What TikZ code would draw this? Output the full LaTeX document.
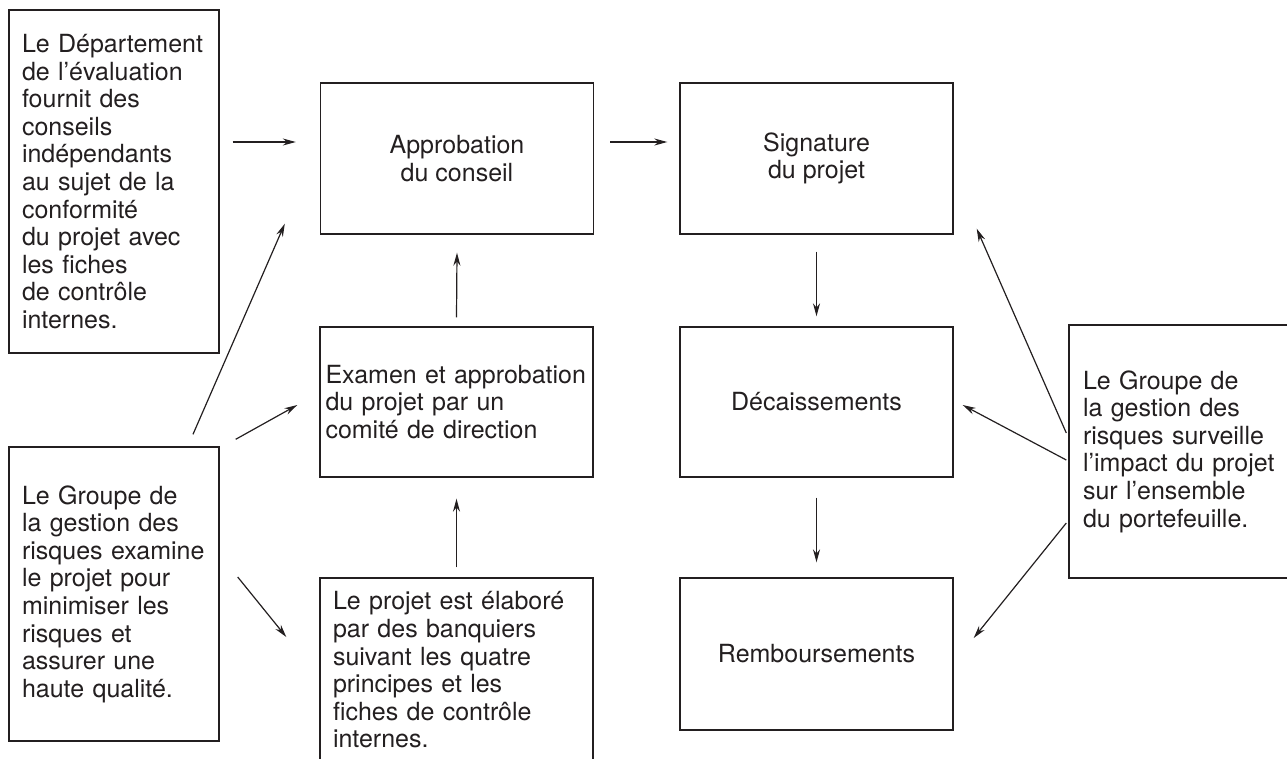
\documentclass[tikz,border=0pt]{standalone}
\usepackage{fontspec}
\setmainfont{TeX Gyre Heros}
\usetikzlibrary{calc,arrows.meta}
\definecolor{ink}{RGB}{35,31,32}
\tikzset{
  >={Stealth[length=13pt,width=7pt]},
  box/.style={draw=ink, line width=1.4pt, text=ink, minimum width=273pt, inner sep=0pt,
    font=\fontsize{25}{27.6}\selectfont, align=center},
  note/.style={box, align=left},
  link/.style={->, draw=ink, line width=1.2pt},
}

\begin{document}
\begin{tikzpicture}[x=1pt,y=-1pt]
\useasboundingbox (0,0) rectangle (1287,758);

\node[box, minimum height=151pt] (approb) at (457,158.5) {Approbation\\du conseil};
\node[box, minimum height=151pt] (sign) at (816.5,158.5) {Signature\\du projet};
\node[note, minimum height=150pt, text width=262pt] (exam) at (456.5,402) {Examen et approbation\\du projet par un\\comité de direction};
\node[box, minimum height=150pt] (decais) at (816.5,402) {Décaissements};
\node[note, minimum height=184pt, text width=247pt] (elab) at (456.5,670) {Le projet est élaboré\\par des banquiers\\suivant les quatre\\principes et les\\fiches de contrôle\\internes.};
\node[box, minimum height=152pt] (remb) at (816.5,654) {Remboursements};

\node[note, minimum width=210pt, minimum height=343pt, text width=184pt] (dept) at (114,181.5) {Le Département\\de l’évaluation\\fournit des\\conseils\\indépendants\\au sujet de la\\conformité\\du projet avec\\les fiches\\de contrôle\\internes.};
\node[note, minimum width=210pt, minimum height=294pt, text width=184pt] (risk) at (114,594) {Le Groupe de\\la gestion des\\risques examine\\le projet pour\\minimiser les\\risques et\\assurer une\\haute qualité.};
\node[note, minimum width=233pt, minimum height=253pt, text width=205pt] (monitor) at (1185.5,451.5) {Le Groupe de\\la gestion des\\risques surveille\\l’impact du projet\\sur l’ensemble\\du portefeuille.};

\draw[link] ($(dept.east)+(13,-39.5)$) -- ($(approb.west)+(-24,-16.5)$);
\draw[link] ($(approb.east)+(16,-16.5)$) -- ($(sign.west)+(-12,-16.5)$);
\draw[link] ($(exam.north)+(0,-9)$) -- ($(approb.south)+(0,18)$);
\draw[link] ($(elab.north)+(0,-10)$) -- ($(exam.south)+(0,21)$);
\draw[link] ($(sign.south)+(0,17)$) -- ($(decais.north)+(0,-10)$);
\draw[link] ($(decais.south)+(0,20)$) -- ($(remb.north)+(0,-15)$);

\draw[link] ($(risk.north)+(79,-12)$) -- ($(approb.south west)+(-35,-11)$);
\draw[link] ($(risk.north east)+(16,-7)$) -- ($(exam.west)+(-22,3)$);
\draw[link] ($(risk.east)+(18,-17)$) -- ($(elab.west)+(-33,-33)$);

\draw[link] ($(monitor.west)+(-2,-18.5)$) -- ($(sign.south east)+(23,-6)$);
\draw[link] ($(monitor.west)+(-2,8.5)$) -- ($(decais.east)+(9,3)$);
\draw[link] ($(monitor.west)+(-2,71.5)$) -- ($(remb.east)+(20,-16)$);
\end{tikzpicture}
\end{document}
